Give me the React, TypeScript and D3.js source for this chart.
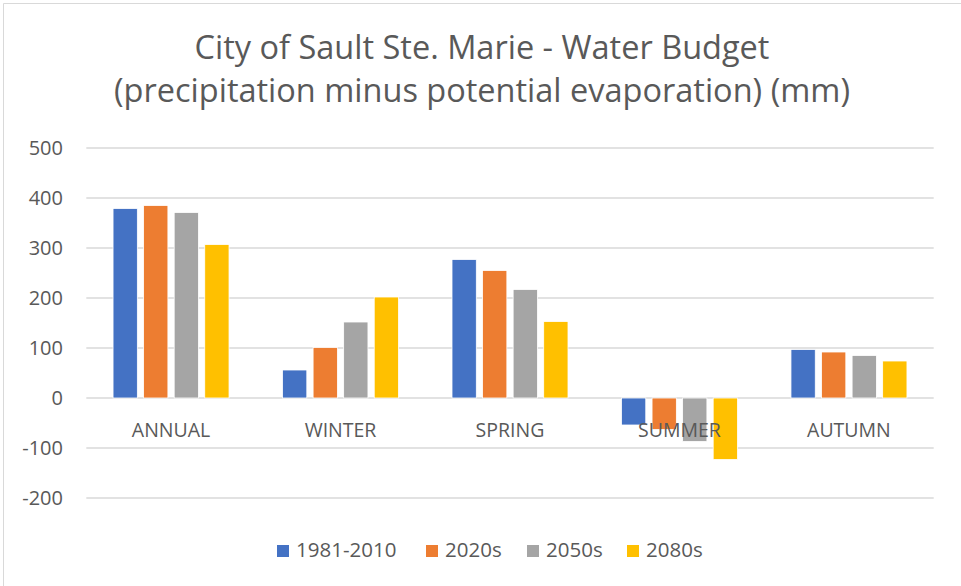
import React from "react";
import { scaleBand, scaleLinear } from "d3";

const categories = ["ANNUAL", "WINTER", "SPRING", "SUMMER", "AUTUMN"];
const seriesNames = ["1981-2010", "2020s", "2050s", "2080s"];
const baseline = [379, 56, 277, -54, 97];
const s2020 = [385, 101, 255, -63, 92];
const s2050 = [371, 152, 217, -87, 85];
const s2080 = [307, 202, 153, -123, 74];
const yTicks = [500, 400, 300, 200, 100, 0, -100, -200];
const titleLines = [
  "City of Sault Ste. Marie - Water Budget",
  "(precipitation minus potential evaporation) (mm)",
];

const seriesValues = [baseline, s2020, s2050, s2080];
const colors = ["#4472C4", "#ED7D31", "#A5A5A5", "#FFC000"];

const W = 961;
const H = 586;
const FONT = "'Open Sans', sans-serif";
const TEXT = "#595959";

export default function App() {
  // plot area
  const left = 86.3;
  const right = 933.7;
  const x0 = scaleBand().domain(categories).range([left, right]).padding(0);
  const x1 = scaleBand()
    .domain(seriesNames)
    .range([0, x0.bandwidth()])
    .paddingInner(0.205)
    .paddingOuter(0.875);
  const y = scaleLinear().domain([-200, 500]).range([498, 148]);

  // legend layout
  const legendX = [277, 426, 527, 627];

  return (
    <svg
      width={W}
      height={H}
      style={{ position: "absolute", left: 0, top: 0, background: "#fff" }}
      fontFamily={FONT}
    >
      <rect x={0} y={0} width={W} height={H} fill="#fff" />
      {/* chart border */}
      <line x1={3.5} x2={W} y1={3.5} y2={3.5} stroke="#d9d9d9" />
      <line x1={3.5} x2={3.5} y1={3.5} y2={H} stroke="#d9d9d9" />

      {/* title */}
      {titleLines.map((t, i) => (
        <text
          key={t}
          x={482}
          y={58.5 + i * 43}
          textAnchor="middle"
          fontSize={32.5}
          fill={TEXT}
        >
          {t}
        </text>
      ))}

      {/* gridlines + y labels */}
      {yTicks.map((t) => (
        <g key={t}>
          <line
            x1={left}
            x2={right}
            y1={y(t)}
            y2={y(t)}
            stroke="#d9d9d9"
            strokeWidth={1.3}
          />
          <text
            x={63}
            y={y(t)}
            dy="0.36em"
            textAnchor="end"
            fontSize={20}
            fill={TEXT}
          >
            {t}
          </text>
        </g>
      ))}

      {/* bars */}
      {seriesValues.map((vals, si) => (
        <g key={seriesNames[si]} fill={colors[si]}>
          {vals.map((v, ci) => (
            <rect
              key={categories[ci]}
              x={x0(categories[ci])! + x1(seriesNames[si])!}
              y={y(Math.max(0, v))}
              width={x1.bandwidth()}
              height={Math.abs(y(v) - y(0))}
              stroke="#fff"
              strokeWidth={0.8}
            />
          ))}
        </g>
      ))}

      {/* category labels */}
      {categories.map((c) => (
        <text
          key={c}
          x={x0(c)! + x0.bandwidth() / 2}
          y={436.7}
          textAnchor="middle"
          fontSize={19.5}
          fill={TEXT}
        >
          {c}
        </text>
      ))}

      {/* legend */}
      {seriesNames.map((s, i) => (
        <g key={s} transform={`translate(${legendX[i]},0)`}>
          <rect x={0} y={545} width={12} height={12} fill={colors[i]} />
          <text x={19} y={557.3} fontSize={20.5} fill={TEXT}>
            {s}
          </text>
        </g>
      ))}
    </svg>
  );
}
